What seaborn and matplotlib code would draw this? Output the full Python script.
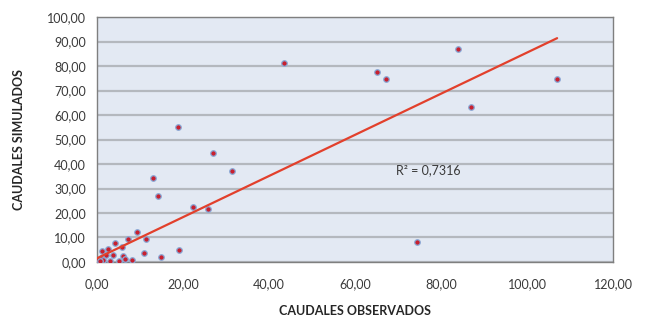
import matplotlib
matplotlib.use("Agg")
import matplotlib.pyplot as plt
import seaborn as sns
import numpy as np
import pandas as pd
from matplotlib.ticker import FuncFormatter, MultipleLocator

# Data
observados = [107.0, 84.0, 43.4, 65.1, 67.2, 86.9, 74.5, 26.9, 31.3,
              13.0, 14.3, 22.3, 25.9, 14.8, 19.1, 18.9, 11.0, 11.5, 9.4,
              7.2, 8.1, 5.8, 4.3, 6.1, 6.4, 5.0, 3.7, 2.6, 1.2,
              3.0, 2.1, 0.9, 0.5, 0.2, 0.4, 0.8, 0.1, 1.5, 0.3, 0.6]
simulados = [74.7, 86.9, 81.2, 77.6, 74.8, 63.3, 8.1, 44.6, 37.1,
             34.1, 26.9, 22.4, 21.6, 2.0, 4.9, 55.1, 3.7, 9.4, 12.2,
             9.4, 0.8, 6.1, 7.6, 2.4, 1.2, 0.5, 2.8, 5.3, 4.5,
             0.5, 2.8, 1.6, 0.8, 0.3, 0.1, 0.2, 0.5, 1.0, 0.6, 0.4]
# Linear trend line as shown on the chart
trend_x = [0.0, 107.0]
trend_y = [1.5, 91.4]
r2_text = "R² = 0,7316"
x_label = "CAUDALES OBSERVADOS"
y_label = "CAUDALES SIMULADOS"

df = pd.DataFrame({"obs": observados, "sim": simulados})
trend = pd.DataFrame({"x": trend_x, "y": trend_y})

sns.set_theme(style="white")
plt.rcParams["font.family"] = ["Lato", "DejaVu Sans"]

fig = plt.figure(figsize=(6.48, 3.23), dpi=100)
ax = fig.add_axes([0.1497, 0.189, 0.7963, 0.758])
ax.set_facecolor("#E3E9F3")

sns.scatterplot(data=df, x="obs", y="sim", ax=ax, s=16, color="#C8202F",
                edgecolor="#8AAAD8", linewidth=0.9, zorder=3)
sns.lineplot(data=trend, x="x", y="y", ax=ax, color="#E2402C", lw=1.6, zorder=4)

ax.set_xlim(0, 120)
ax.set_ylim(0, 100)
ax.xaxis.set_major_locator(MultipleLocator(20))
ax.yaxis.set_major_locator(MultipleLocator(10))
fmt = FuncFormatter(lambda v, p: f"{v:.2f}".replace(".", ","))
ax.xaxis.set_major_formatter(fmt)
ax.yaxis.set_major_formatter(fmt)
ax.grid(axis="y", color="#B4B8BE", lw=1.6)
ax.set_axisbelow(True)
ax.tick_params(axis="x", labelsize=9, colors="#3A3A3A", length=0, pad=12)
ax.tick_params(axis="y", labelsize=9, colors="#3A3A3A", length=0, pad=8)

for s in ax.spines.values():
    s.set_color("#7F7F7F")
    s.set_linewidth(1.0)

ax.set_xlabel(x_label, fontsize=9, fontweight="bold", color="#262626", labelpad=10)
ax.set_ylabel(y_label, fontsize=9, fontweight="bold", color="#262626", labelpad=16)

ax.text(69.6, 37.5, r2_text, fontsize=9, color="#3A3A3A", va="center", ha="left")

fig.savefig("out.png", dpi=100, facecolor="white")
